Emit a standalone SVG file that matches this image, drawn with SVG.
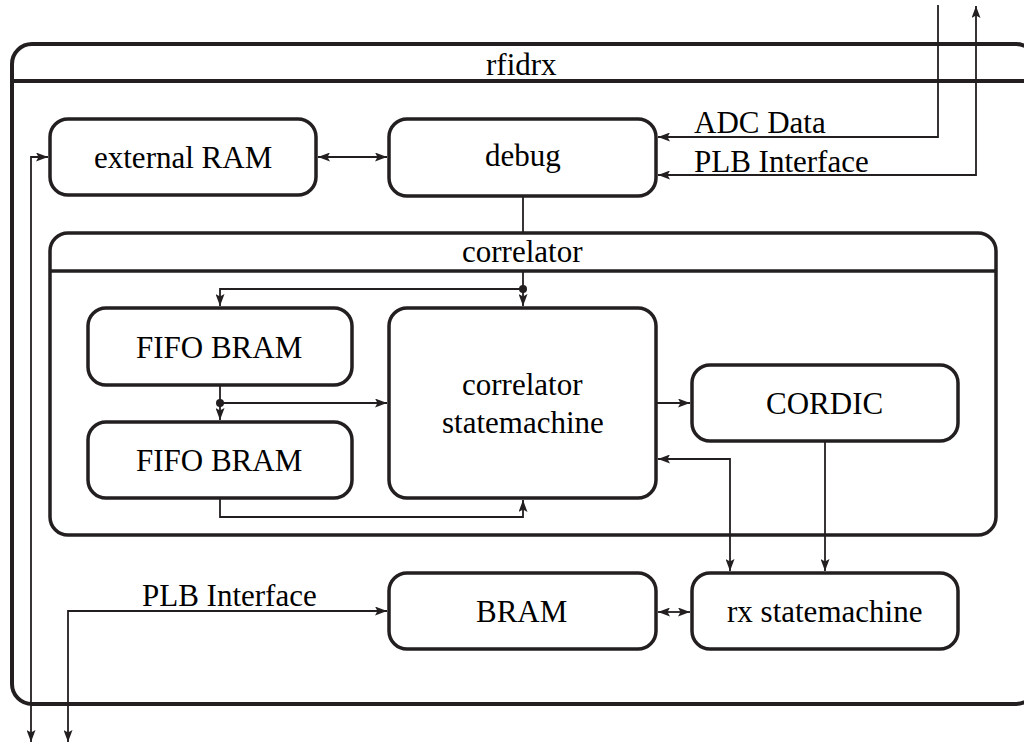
<svg xmlns="http://www.w3.org/2000/svg" width="1024" height="748" viewBox="0 0 1024 748">
  <defs>
    <marker id="tip" viewBox="0 0 12 9" refX="12" refY="4.5" markerWidth="12" markerHeight="9" markerUnits="userSpaceOnUse" orient="auto-start-reverse">
      <path d="M0,0 L12,4.5 L0,9 L2.5,4.5 z" fill="#231f20"/>
    </marker>
  </defs>
  <rect width="1024" height="748" fill="#ffffff"/>

  <!-- top-level block -->
  <g id="rfidrx" fill="none" stroke="#231f20" stroke-width="4">
    <rect x="12" y="44" width="1024" height="660" rx="20"/>
    <line x1="12" y1="81" x2="1036" y2="81"/>
  </g>

  <g id="external-ram" fill="none" stroke="#231f20" stroke-width="3.5">
    <rect x="50" y="119" width="266" height="76" rx="18"/>
  </g>

  <g id="debug" fill="none" stroke="#231f20" stroke-width="3.5">
    <rect x="389" y="119" width="267" height="77" rx="18"/>
  </g>

  <g id="correlator" fill="none" stroke="#231f20" stroke-width="3.5">
    <rect x="50" y="233" width="946" height="302" rx="18"/>
    <line x1="50" y1="271" x2="996" y2="271"/>
  </g>

  <g id="fifo-bram-1" fill="none" stroke="#231f20" stroke-width="3.5">
    <rect x="88" y="308" width="264" height="77" rx="18"/>
  </g>

  <g id="fifo-bram-2" fill="none" stroke="#231f20" stroke-width="3.5">
    <rect x="88" y="422" width="264" height="76" rx="18"/>
  </g>

  <g id="correlator-statemachine" fill="none" stroke="#231f20" stroke-width="3.5">
    <rect x="389" y="308" width="267" height="190" rx="18"/>
  </g>

  <g id="cordic" fill="none" stroke="#231f20" stroke-width="3.5">
    <rect x="692" y="365" width="266" height="76" rx="18"/>
  </g>

  <g id="bram" fill="none" stroke="#231f20" stroke-width="3.5">
    <rect x="389" y="573" width="267" height="76" rx="18"/>
  </g>

  <g id="rx-statemachine" fill="none" stroke="#231f20" stroke-width="3.5">
    <rect x="692" y="573" width="266" height="76" rx="18"/>
  </g>

  <!-- connectors -->
  <g id="connectors" fill="none" stroke="#231f20" stroke-width="1.8">
    <path d="M318,157 H387" marker-start="url(#tip)" marker-end="url(#tip)"/>
    <path d="M938,5 V137 H658" marker-end="url(#tip)"/>
    <path d="M658,175 H976 V6" marker-start="url(#tip)" marker-end="url(#tip)"/>
    <path d="M31,742 V157 H48" marker-start="url(#tip)" marker-end="url(#tip)"/>
    <path d="M68,742 V611 H387" marker-start="url(#tip)" marker-end="url(#tip)"/>
    <path d="M523,196 V233"/>
    <path d="M523,271 V306" marker-end="url(#tip)"/>
    <path d="M523,289 H220 V306" marker-end="url(#tip)"/>
    <path d="M220,385 V420" marker-end="url(#tip)"/>
    <path d="M220,403 H387" marker-end="url(#tip)"/>
    <path d="M220,498 V517 H523 V500" marker-end="url(#tip)"/>
    <path d="M656,403 H690" marker-end="url(#tip)"/>
    <path d="M658,459 H730 V571" marker-start="url(#tip)" marker-end="url(#tip)"/>
    <path d="M825,441 V571" marker-end="url(#tip)"/>
    <path d="M658,612 H690" marker-start="url(#tip)" marker-end="url(#tip)"/>
    <circle cx="523" cy="289" r="4" fill="#231f20" stroke="none"/>
    <circle cx="220" cy="403" r="4" fill="#231f20" stroke="none"/>
  </g>

  <!-- block titles and signal names -->
  <text x="486" y="75" font-family="Liberation Serif" font-size="31">rfidrx</text>
  <text x="94" y="168" font-family="Liberation Serif" font-size="31">external RAM</text>
  <text x="485" y="166" font-family="Liberation Serif" font-size="31">debug</text>
  <text x="462" y="262" font-family="Liberation Serif" font-size="31">correlator</text>
  <text x="136" y="358" font-family="Liberation Serif" font-size="31">FIFO BRAM</text>
  <text x="136" y="471" font-family="Liberation Serif" font-size="31">FIFO BRAM</text>
  <text x="462" y="395" font-family="Liberation Serif" font-size="31">correlator</text>
  <text x="442" y="433" font-family="Liberation Serif" font-size="31">statemachine</text>
  <text x="766" y="414" font-family="Liberation Serif" font-size="31">CORDIC</text>
  <text x="476" y="622" font-family="Liberation Serif" font-size="31">BRAM</text>
  <text x="727" y="622" font-family="Liberation Serif" font-size="31">rx statemachine</text>
  <text x="694" y="133" font-family="Liberation Serif" font-size="31">ADC Data</text>
  <text x="694" y="172" font-family="Liberation Serif" font-size="31">PLB Interface</text>
  <text x="142" y="606" font-family="Liberation Serif" font-size="31">PLB Interface</text>
</svg>
